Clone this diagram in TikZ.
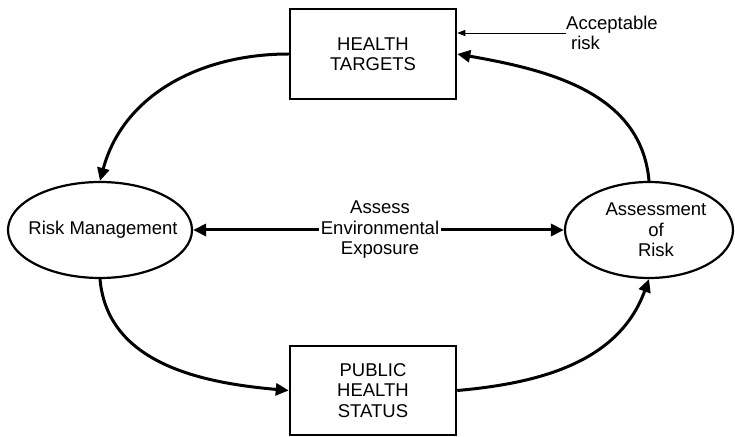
\documentclass[tikz,border=0pt]{standalone}
\usepackage{fontspec}
\setmainfont{Liberation Sans}
\usetikzlibrary{arrows.meta, shapes.geometric}
\tikzset{
    target/.style={draw, line width=2.5pt, minimum width=166pt, minimum height=90pt, align=center, inner sep=0pt},
    oval/.style={ellipse, draw, line width=2.2pt, minimum height=96pt, align=center, inner sep=0pt},
    flow/.style={line width=3pt, -{Triangle[length=13pt,width=12pt]}},
    note/.style={line width=0.8pt, -{Triangle[length=8pt,width=6pt]}},
    every node/.style={font=\fontsize{18.5}{20.5}\selectfont}
}
\begin{document}
\begin{tikzpicture}[x=1pt, y=1pt]
    \useasboundingbox (0,0) rectangle (735,436);
    \node[target] (tgt) at (373,382) {HEALTH\\TARGETS};
    \node[target, minimum height=89pt] (phs) at (373,45.5) {PUBLIC\\HEALTH\\STATUS};
    \node[oval, minimum width=184pt, inner xsep=-14pt] (rm) at (100,206) {\hspace*{6pt}Risk Management};
    \node[oval, minimum width=168pt, inner xsep=-6pt] (aor) at (649,206) {\hspace*{14pt}Assessment\\\hspace*{14pt}of\\\hspace*{14pt}Risk};
    \node[align=center, inner sep=2pt] (aee) at (380,206) {Assess\\Environmental\\Exposure};
    \node[align=left, anchor=west, inner sep=0pt] (acc) at (566,403) {Acceptable\\\hspace*{5pt}risk};
    % exposure line
    \draw[flow] (aee) -- (rm);
    \draw[flow] (aee) -- (aor);
    % cycle
    \draw[flow] (tgt.west) to[out=180, in=75] (rm.north);
    \draw[flow] (rm.south) to[out=-85, in=175] (phs.west);
    \draw[flow] (phs.east) to[out=5, in=-110] (aor.south);
    \draw[flow] (aor.north) to[out=95, in=-10] (tgt.east);
    \draw[note] (acc.west) -- (acc.west -| tgt.east);
\end{tikzpicture}
\end{document}
